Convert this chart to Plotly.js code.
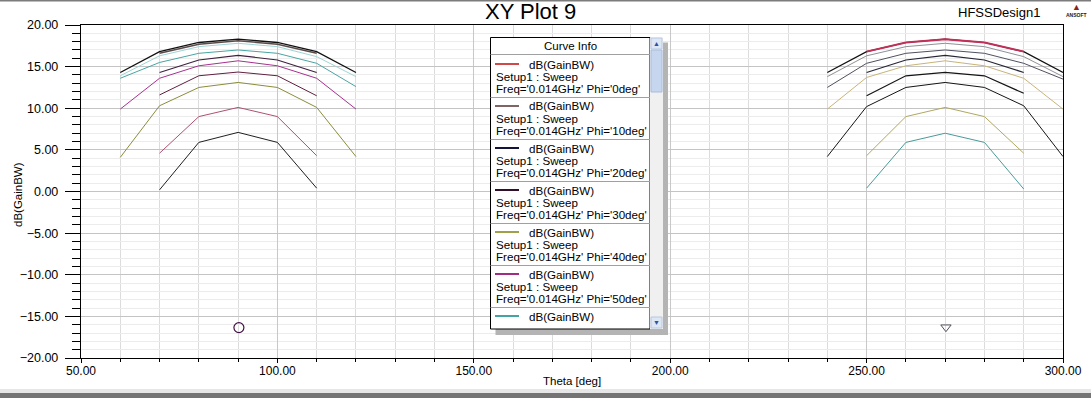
<!DOCTYPE html>
<html>
<head>
<meta charset="utf-8">
<script src="https://cdn.plot.ly/plotly-3.0.1.min.js"></script>
<style>html,body{margin:0;padding:0;background:#fff;}#chart{width:1091px;height:398px;}</style>
</head>
<body>
<div id="chart"></div>
<script>
// ---------- data ----------
const thetaLeft  = [60, 70, 80, 90, 100, 110, 120];
const thetaRight = [240, 250, 260, 270, 280, 290, 300];

const leftA = [14.3, 16.8, 17.9, 18.3, 17.9, 16.8, 14.3];
const leftB = [null, 16.6, 17.7, 18.1, 17.7, 16.6, null];
const leftC = [13.9, 16.3, 17.4, 17.8, 17.4, 16.2, 13.8];
const leftD = [13.6, 15.5, 16.6, 17.0, 16.6, 15.4, 12.6];
const leftE = [null, 14.3, 15.8, 16.35, 15.8, 14.3, null];
const leftF = [9.9, 13.6, 15.1, 15.7, 15.1, 13.6, 9.9];
const leftG = [null, 11.6, 13.9, 14.35, 13.9, 11.5, null];
const leftH = [4.1, 10.3, 12.5, 13.1, 12.5, 10.1, 4.2];
const leftI = [null, 4.6, 9.0, 10.1, 9.0, 4.3, null];
const leftJ = [null, 0.2, 5.9, 7.1, 5.9, 0.4, null];

const rightA = [14.3, 16.8, 17.9, 18.3, 17.9, 16.8, 14.3];
const rightB = [null, 16.8, 17.9, 18.3, 17.9, 16.8, null];
const rightC = [13.8, 16.3, 17.4, 17.8, 17.4, 16.2, 13.8];
const rightD = [12.5, 15.4, 16.6, 17.0, 16.6, 15.4, 13.5];
const rightE = [null, 14.3, 15.8, 16.35, 15.8, 14.3, null];
const rightF = [9.9, 13.7, 15.1, 15.7, 15.1, 13.6, 9.9];
const rightG = [null, 11.5, 13.9, 14.3, 13.9, 11.8, null];
const rightH = [4.2, 10.2, 12.5, 13.1, 12.5, 10.3, 4.2];
const rightI = [null, 4.3, 9.0, 10.1, 9.0, 4.6, null];
const rightJ = [null, 0.4, 5.9, 7.0, 5.9, 0.3, null];

const markerCircle = {x: [90.2], y: [-16.35]};
const markerTriangle = {x: [270.2], y: [-16.3]};

const legendPhi = ['0deg', '10deg', '20deg', '30deg', '40deg', '50deg', '60deg'];
const legendColors = ['#d04848', '#806464', '#14143a', '#301028', '#a0a048', '#a02c84', '#44a4a4'];

const xTickVals = [50, 100, 150, 200, 250, 300];

// ---------- traces ----------
const leftSeries = [
  [leftJ, '#202020', 1], [leftI, '#b05070', 1], [leftH, '#8c8c3c', 1], [leftG, '#602040', 1],
  [leftF, '#a83090', 1], [leftE, '#402040', 1.2], [leftD, '#4aa4a4', 1], [leftC, '#a0d4d4', 1],
  [leftB, '#5a4a4a', 1.5], [leftA, '#111111', 1.3]
];
const rightSeries = [
  [rightJ, '#4a9a9a', 1], [rightI, '#b0a860', 1], [rightH, '#151515', 1], [rightG, '#151515', 1.2],
  [rightF, '#c8b478', 1], [rightE, '#252535', 1.2], [rightD, '#505060', 1], [rightC, '#909098', 1],
  [rightA, '#111111', 1.2], [rightB, '#c03058', 2]
];
const traces = [];
leftSeries.forEach(s => traces.push({x: thetaLeft, y: s[0], type: 'scatter', mode: 'lines',
  line: {color: s[1], width: s[2]}, hoverinfo: 'x+y'}));
rightSeries.forEach(s => traces.push({x: thetaRight, y: s[0], type: 'scatter', mode: 'lines',
  line: {color: s[1], width: s[2]}, hoverinfo: 'x+y'}));
traces.push({x: markerCircle.x, y: markerCircle.y, type: 'scatter', mode: 'markers',
  marker: {symbol: 'circle-open', size: 10, color: '#401040', line: {width: 1.2, color: '#401040'}}});
traces.push({x: markerTriangle.x, y: markerTriangle.y, type: 'scatter', mode: 'markers',
  marker: {symbol: 'triangle-down-open', size: 9, color: '#505060', line: {width: 1, color: '#505060'}}});

// ---------- pixel helpers for decorations ----------
const W = 1091, H = 398, L = 81, R = 1063, T = 25, B = 358;
const px = v => (v - L) / (R - L);
const py = v => (B - v) / (B - T);

const shapes = [];
const annotations = [];
const FONT = 'Liberation Sans, Arial, sans-serif';

// window chrome
shapes.push({type: 'rect', xref: 'paper', yref: 'paper', x0: px(0), x1: px(W), y0: py(0), y1: py(1.5),
  fillcolor: '#7c7c7c', line: {width: 0}, layer: 'above'});
shapes.push({type: 'rect', xref: 'paper', yref: 'paper', x0: px(0), x1: px(W), y0: py(389), y1: py(393),
  fillcolor: '#e6e6e6', line: {width: 0}});
shapes.push({type: 'rect', xref: 'paper', yref: 'paper', x0: px(0), x1: px(W), y0: py(393), y1: py(398),
  fillcolor: '#747474', line: {width: 0}});

// legend box ("Curve Info")
const bx0 = 490.5, bx1 = 650, by0 = 37.5, by1 = 329;
shapes.push({type: 'rect', xref: 'paper', yref: 'paper', x0: px(bx0 + 5), x1: px(668), y0: py(by0 + 5), y1: py(by1 + 6),
  fillcolor: '#b4b4b4', line: {width: 0}, layer: 'above'});
shapes.push({type: 'rect', xref: 'paper', yref: 'paper', x0: px(bx0), x1: px(663), y0: py(by0), y1: py(by1),
  fillcolor: '#ffffff', line: {width: 0}, layer: 'above'});
shapes.push({type: 'rect', xref: 'paper', yref: 'paper', x0: px(bx0), x1: px(bx1), y0: py(by0), y1: py(by1),
  fillcolor: 'rgba(0,0,0,0)', line: {width: 1, color: '#000000'}, layer: 'above'});
// scrollbar
shapes.push({type: 'rect', xref: 'paper', yref: 'paper', x0: px(bx1), x1: px(663), y0: py(by0), y1: py(by1),
  fillcolor: '#f0f0f0', line: {width: 0}, layer: 'above'});
shapes.push({type: 'rect', xref: 'paper', yref: 'paper', x0: px(651), x1: px(662), y0: py(50), y1: py(92),
  fillcolor: '#c6d6ee', line: {width: 1, color: '#a8bcdc'}, layer: 'above'});
shapes.push({type: 'rect', xref: 'paper', yref: 'paper', x0: px(651), x1: px(662), y0: py(38), y1: py(49),
  fillcolor: '#dde6f4', line: {width: 1, color: '#b8c8e0'}, layer: 'above'});
shapes.push({type: 'rect', xref: 'paper', yref: 'paper', x0: px(651), x1: px(662), y0: py(317), y1: py(328),
  fillcolor: '#dde6f4', line: {width: 1, color: '#b8c8e0'}, layer: 'above'});
annotations.push({xref: 'paper', yref: 'paper', x: px(656.5), y: py(43.5), text: '▲', showarrow: false,
  font: {family: FONT, size: 7, color: '#3050a0'}, xanchor: 'center', yanchor: 'middle'});
annotations.push({xref: 'paper', yref: 'paper', x: px(656.5), y: py(322.5), text: '▼', showarrow: false,
  font: {family: FONT, size: 7, color: '#3050a0'}, xanchor: 'center', yanchor: 'middle'});
// header
annotations.push({xref: 'paper', yref: 'paper', x: px(570.5), y: py(46), text: 'Curve Info', showarrow: false,
  font: {family: FONT, size: 11.5, color: '#000'}, xanchor: 'center', yanchor: 'middle'});
shapes.push({type: 'line', xref: 'paper', yref: 'paper', x0: px(bx0), x1: px(bx1), y0: py(54.5), y1: py(54.5),
  line: {width: 1, color: '#a0a0a0'}, layer: 'above'});
// entries
legendPhi.forEach((phi, i) => {
  const top = 55.5 + i * 42;
  const lineY = top + 8.5;
  shapes.push({type: 'line', xref: 'paper', yref: 'paper', x0: px(495), x1: px(519), y0: py(lineY), y1: py(lineY),
    line: {width: 2, color: legendColors[i]}, layer: 'above'});
  annotations.push({xref: 'paper', yref: 'paper', x: px(527), y: py(lineY), text: 'dB(GainBW)', showarrow: false,
    font: {family: FONT, size: 11.6, color: '#000'}, xanchor: 'left', yanchor: 'middle'});
  if (i < 6) {
    annotations.push({xref: 'paper', yref: 'paper', x: px(494), y: py(top + 21), text: 'Setup1 : Sweep', showarrow: false,
      font: {family: FONT, size: 11.6, color: '#000'}, xanchor: 'left', yanchor: 'middle'});
    annotations.push({xref: 'paper', yref: 'paper', x: px(494), y: py(top + 33), text: "Freq='0.014GHz' Phi='" + phi + "'", showarrow: false,
      font: {family: FONT, size: 11.6, color: '#000'}, xanchor: 'left', yanchor: 'middle'});
    shapes.push({type: 'line', xref: 'paper', yref: 'paper', x0: px(bx0), x1: px(bx1), y0: py(top + 42), y1: py(top + 42),
      line: {width: 1, color: '#a0a0a0'}, layer: 'above'});
  }
});

// titles
annotations.push({xref: 'paper', yref: 'paper', x: px(530), y: py(11.5), text: 'XY Plot 9', showarrow: false,
  font: {family: FONT, size: 22, color: '#000'}, xanchor: 'center', yanchor: 'middle'});
annotations.push({xref: 'paper', yref: 'paper', x: px(1042), y: py(12), text: 'HFSSDesign1', showarrow: false,
  font: {family: FONT, size: 13, color: '#000'}, xanchor: 'right', yanchor: 'middle'});
annotations.push({xref: 'paper', yref: 'paper', x: px(1076), y: py(7), text: '▲', showarrow: false,
  font: {family: FONT, size: 9, color: '#8a2020'}, xanchor: 'center', yanchor: 'middle'});
annotations.push({xref: 'paper', yref: 'paper', x: px(1076), y: py(15), text: '<b>ANSOFT</b>', showarrow: false,
  font: {family: FONT, size: 5, color: '#202020'}, xanchor: 'center', yanchor: 'middle'});
// axis titles
annotations.push({xref: 'paper', yref: 'paper', x: px(572), y: py(381), text: 'Theta [deg]', showarrow: false,
  font: {family: FONT, size: 11.5, color: '#000'}, xanchor: 'center', yanchor: 'middle'});
annotations.push({xref: 'paper', yref: 'paper', x: px(18), y: py(194), text: 'dB(GainBW)', showarrow: false,
  textangle: -90, font: {family: FONT, size: 11.5, color: '#000'}, xanchor: 'center', yanchor: 'middle'});

const layout = {
  width: W, height: H,
  margin: {l: L, r: W - R, t: T, b: H - B, pad: 0},
  paper_bgcolor: '#ffffff', plot_bgcolor: '#ffffff',
  showlegend: false,
  font: {family: FONT, size: 12, color: '#000'},
  xaxis: {
    range: [50, 300], tickvals: xTickVals, tickformat: '.2f',
    showline: true, linecolor: '#000', linewidth: 1.2, mirror: true,
    ticks: 'outside', ticklen: 4, tickcolor: '#000', ticklabelstandoff: -3,
    showgrid: true, gridcolor: '#c8c8c8', gridwidth: 1, zeroline: false,
    tickfont: {family: FONT, size: 12, color: '#000'},
    minor: {dtick: 10, ticks: 'outside', ticklen: 3, tickcolor: '#000', showgrid: true, gridcolor: '#dcdcdc', gridwidth: 1},
    fixedrange: true
  },
  yaxis: {
    range: [-20, 20], dtick: 5, tick0: 0, tickformat: '.2f',
    showline: true, linecolor: '#000', linewidth: 1.2, mirror: true,
    ticks: 'outside', ticklen: 15, tickcolor: '#000', ticklabelstandoff: 4,
    showgrid: true, gridcolor: '#c4c4c4', gridwidth: 1, zeroline: false,
    tickfont: {family: FONT, size: 12.5, color: '#000'},
    minor: {dtick: 1, ticks: 'outside', ticklen: 8, tickcolor: '#000', showgrid: true, gridcolor: '#ececec', gridwidth: 1},
    fixedrange: true
  },
  shapes: shapes,
  annotations: annotations
};

Plotly.newPlot('chart', traces, layout, {displayModeBar: false, staticPlot: true});
</script>
</body>
</html>
